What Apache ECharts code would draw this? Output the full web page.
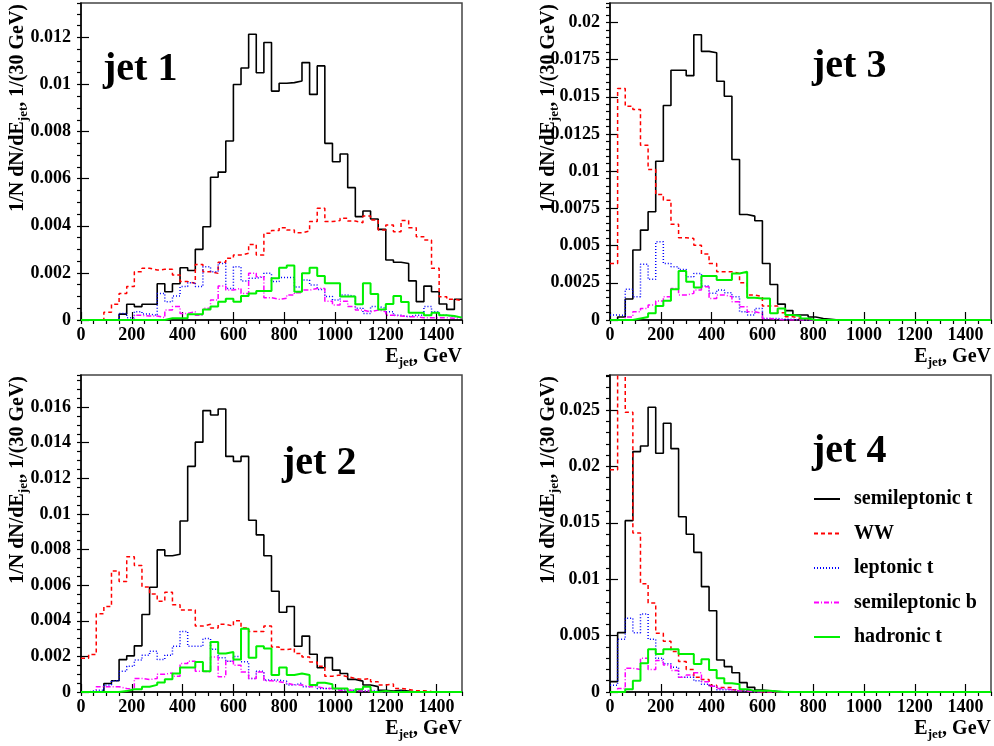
<!DOCTYPE html>
<html><head><meta charset="utf-8">
<script src="https://cdn.jsdelivr.net/npm/echarts@6/dist/echarts.min.js"></script>
<style>html,body{margin:0;padding:0;background:#fff}#c{width:994px;height:746px}</style>
</head><body><div id="c"></div>
<script>
// Bin lower edges (GeV), 30 GeV bins
const binLowEdges = [0,30,60,90,120,150,180,210,240,270,300,330,360,390,420,450,480,510,540,570,
  600,630,660,690,720,750,780,810,840,870,900,930,960,990,1020,1050,1080,1110,1140,1170,
  1200,1230,1260,1290,1320,1350,1380,1410,1440,1470];
const upperEdge = 1500;
const seriesNames = ['semileptonic t','WW','leptonic t','semileptonic b','hadronic t'];
const panelLabels = ['jet 1','jet 3','jet 2','jet 4'];
const yMaxes = [0.01346, 0.0213, 0.0178, 0.0281];
const yIntervals = [0.002, 0.0025, 0.002, 0.005];
const yMinorIntervals = [0.0005, 0.0005, 0.0005, 0.001];

// ---- jet 1 ----
const jet1Semilep = [0,0,0,0,0, 0.00025,0.00067,0.00057,0.00067,0.00067,
  0.00154,0.0012,0.00154,0.00222,0.0021, 0.003,0.00396,0.00606,0.00628,0.0076,
  0.0100,0.0107,0.01213,0.0105,0.01178, 0.00972,0.01005,0.01008,0.01015,0.01093,
  0.00958,0.01079,0.0075,0.00672,0.00705, 0.00562,0.00439,0.00463,0.00429,0.00385,
  0.00255,0.00245,0.0024,0.00166,0.00078, 0.00144,0.0012,0.00068,0.00045,0.00088];
const jet1WW = [0,0,0,0.00033,0.00067, 0.00113,0.00142,0.00205,0.0022,0.00212,
  0.00215,0.00215,0.00191,0.00163,0.00156, 0.00236,0.00205,0.00198,0.00245,0.00262,
  0.00276,0.00283,0.00321,0.00276,0.00368, 0.0038,0.00392,0.00382,0.0037,0.00378,
  0.00418,0.00474,0.00418,0.00422,0.00432, 0.0042,0.00413,0.00442,0.00425,0.00382,
  0.00403,0.00375,0.00422,0.00392,0.00354, 0.0034,0.0022,0.00099,0.00088,0.00082];
const jet1Lep = [0,0,0,0,0, 0.00028,0.0001,0.00035,0.00025,0.0002,
  0.00113,0.00078,0.00102,0.00142,0.00158, 0.00142,0.00226,0.00205,0.0024,0.00134,
  0.00226,0.00166,0.00177,0.00184,0.00198, 0.00163,0.0018,0.0018,0.0014,0.0017,
  0.00149,0.0013,0.001,0.00085,0.00106, 0.001,0.0005,0.00028,0.00057,0.0005,
  0.00035,0.0002,0.00014,0.0002,0.0002, 0.00057,0.00035,0.0002,0.00014,0.0001];
const jet1SemilepB = [0,0,0,0,0, 0,0,0.0002,0.00017,0.00017,
  0.0001,0.00042,0.00057,0.00028,0.00035, 0.0002,0.0005,0.00085,0.00144,0.00127,
  0.00134,0.00113,0.00198,0.00184,0.00095, 0.00088,0.00092,0.00106,0.00116,0.00127,
  0.00134,0.00134,0.0008,0.00064,0.0008, 0.00057,0.00042,0.00035,0.00042,0.00035,
  0.0002,0.00017,0.00014,0.00014,0.0001, 0.0001,0.0001,0.0001,0.00007,0.0001];
const jet1Had = [0,0,0,0,0, 0,0,0,0,0,
  0,0.00007,0.00007,0.00007,0.00024, 0.00024,0.00045,0.00057,0.00078,0.0009,
  0.00078,0.00102,0.00113,0.00123,0.00123, 0.00177,0.00222,0.00231,0.0012,0.00198,
  0.00222,0.00187,0.00156,0.00156,0.001, 0.001,0.00067,0.00156,0.0011,0.00045,
  0.00068,0.00102,0.00076,0.00031,0.00031, 0.0002,0.00031,0.0002,0.00017,0.0001];

// ---- jet 3 ----
const jet3Semilep = [0,0.0002,0.00141,0.0047,0.00604, 0.00727,0.01067,0.01441,0.01678,0.01678,
  0.01642,0.01917,0.01805,0.01796,0.01604, 0.01503,0.01078,0.00709,0.00698,0.00667,
  0.0038,0.00239,0.00107,0.00063,0.00034, 0.00034,0.0002,0.0001,0.00005,0,
  0,0,0,0,0, 0,0,0,0,0, 0,0,0,0,0, 0,0,0,0,0];
const jet3WW = [0.0038,0.01555,0.01436,0.01414,0.01174, 0.01011,0.00843,0.00805,0.00644,0.00553,
  0.00548,0.00503,0.00443,0.0038,0.00324, 0.00324,0.00313,0.00251,0.00168,0.00157,
  0.00094,0.00094,0.00049,0.00022,0.0001, 0.00005,0,0,0,0,
  0,0,0,0,0, 0,0,0,0,0, 0,0,0,0,0, 0,0,0,0,0];
const jet3Lep = [0.00034,0.0003,0.00206,0.00157,0.00374, 0.00273,0.00526,0.0038,0.00358,0.0034,
  0.00291,0.00313,0.00228,0.00179,0.00201, 0.00183,0.00157,0.00056,0.00034,0.00078,
  0.0001,0.0001,0.00005,0.00005,0, 0,0,0,0,0,
  0,0,0,0,0, 0,0,0,0,0, 0,0,0,0,0, 0,0,0,0,0];
const jet3SemilepB = [0,0,0.0002,0.00056,0.00078, 0.001,0.00128,0.00157,0.00212,0.00168,
  0.00179,0.00201,0.00224,0.00145,0.00168, 0.00157,0.00123,0.00089,0.00056,0.00045,
  0.0001,0.00005,0,0,0, 0,0,0,0,0,
  0,0,0,0,0, 0,0,0,0,0, 0,0,0,0,0, 0,0,0,0,0];
const jet3Had = [0,0,0,0.0001,0.0002, 0.00045,0.00094,0.0013,0.00206,0.00329,
  0.00257,0.00219,0.00295,0.00295,0.00268, 0.00268,0.00313,0.00324,0.0015,0.00145,
  0.00145,0.00045,0.00078,0.00034,0.00027, 0.0001,0,0,0,0,
  0,0,0,0,0, 0,0,0,0,0, 0,0,0,0,0, 0,0,0,0,0];

// ---- jet 2 ----
const jet2Semilep = [0,0,0,0.00048,0.00063, 0.00182,0.00203,0.00259,0.00435,0.00588,
  0.00798,0.00765,0.00774,0.0096,0.01267, 0.01403,0.0158,0.01555,0.01589,0.01323,
  0.01295,0.01323,0.00964,0.00882,0.00765, 0.00566,0.00448,0.0048,0.00257,0.00314,
  0.00212,0.00136,0.00193,0.00123,0.00104, 0.00071,0.00061,0.00039,0.0003,0.0001,
  0.00005,0.0001,0.00005,0,0, 0,0,0,0,0];
const jet2WW = [0.0019,0.0021,0.0044,0.0048,0.0068, 0.0062,0.0076,0.0071,0.0059,0.0055,
  0.0051,0.0056,0.0049,0.0046,0.0046, 0.0037,0.0038,0.0036,0.0038,0.0037,
  0.0040,0.0036,0.0034,0.0034,0.0037, 0.00253,0.00238,0.00244,0.00216,0.00197,
  0.00169,0.00145,0.00089,0.00095,0.00086, 0.00076,0.00071,0.00076,0.00058,0.00039,
  0.00045,0.0002,0.00015,0.00007,0.00007, 0.00003,0,0,0,0];
const jet2Lep = [0,0.0001,0.0001,0.0004,0.00063, 0.00117,0.00145,0.00179,0.00207,0.00229,
  0.00182,0.00207,0.00257,0.0034,0.00257, 0.00257,0.003,0.0024,0.00192,0.00173,
  0.002,0.0017,0.00076,0.00117,0.00067, 0.00067,0.0006,0.0004,0.0005,0.0003,
  0.0004,0.0002,0.0002,0.00015,0.0001, 0.0001,0.00005,0.0001,0.00005,0,
  0,0.00005,0,0,0, 0,0,0,0,0];
const jet2SemilepB = [0,0,0.0003,0.0003,0.0003, 0.0002,0.00015,0.00076,0.0007,0.00076,
  0.001,0.00107,0.00089,0.0016,0.00173, 0.00117,0.00113,0.00197,0.00086,0.00173,
  0.0015,0.00113,0.00076,0.00113,0.00063, 0.00058,0.0005,0.0004,0.0004,0.0003,
  0.0003,0.0002,0.0002,0.0001,0.0001, 0.0001,0.00005,0.00005,0,0,
  0,0,0,0,0, 0,0,0,0,0];
const jet2Had = [0,0,0,0,0, 0.00005,0.00015,0.00015,0.0003,0.0004,
  0.00054,0.00071,0.00104,0.00138,0.00138, 0.00169,0.00117,0.00281,0.00216,0.00225,
  0.00182,0.00355,0.00192,0.00257,0.00244, 0.00095,0.00138,0.00095,0.00104,0.00095,
  0.0004,0.00052,0.00043,0.0002,0.0002, 0,0.00015,0.0003,0,0.00005,
  0,0,0,0,0, 0,0,0,0,0];

// ---- jet 4 ----
const jet4Semilep = [0.00092,0.00526,0.01519,0.02131,0.02181, 0.02524,0.02116,0.02382,0.02157,0.01554,
  0.01398,0.01238,0.00934,0.0072,0.00284, 0.00225,0.0017,0.00083,0.00041,0.00018,
  0.0001,0.00005,0,0,0, 0,0,0,0,0,
  0,0,0,0,0, 0,0,0,0,0, 0,0,0,0,0, 0,0,0,0,0];
const jet4WW = [0.0197,0.034,0.0248,0.0141,0.0096, 0.0079,0.0052,0.0045,0.0036,0.0027,
  0.002,0.0013,0.0011,0.0006,0.0004, 0.0004,0.0002,0.0001,0.0001,0,
  0,0,0,0,0, 0,0,0,0,0,
  0,0,0,0,0, 0,0,0,0,0, 0,0,0,0,0, 0,0,0,0,0];
const jet4Lep = [0.0006,0.00467,0.00653,0.00526,0.00691, 0.00467,0.003,0.0025,0.0022,0.0013,
  0.0013,0.001,0.00068,0.0005,0.0002, 0.0002,0.0001,0.0001,0.00005,0.00005,
  0.0001,0,0,0,0, 0,0,0,0,0,
  0,0,0,0,0, 0,0,0,0,0, 0,0,0,0,0, 0,0,0,0,0];
const jet4SemilepB = [0,0.0003,0.0021,0.002,0.003, 0.002,0.0028,0.0024,0.0019,0.0013,
  0.0015,0.0017,0.0009,0.0005,0.0003, 0.0002,0.0001,0.0001,0,0,
  0,0,0,0,0, 0,0,0,0,0,
  0,0,0,0,0, 0,0,0,0,0, 0,0,0,0,0, 0,0,0,0,0];
const jet4Had = [0,0,0.00024,0.001,0.00254, 0.00378,0.00337,0.00378,0.00378,0.00337,
  0.00337,0.00248,0.0029,0.00195,0.00121, 0.00077,0.00068,0.00024,0.0001,0.0001,
  0.0001,0.00005,0,0,0, 0,0,0,0,0,
  0,0,0,0,0, 0,0,0,0,0, 0,0,0,0,0, 0,0,0,0,0];

const panelData = [
  [jet1Semilep, jet1WW, jet1Lep, jet1SemilepB, jet1Had],
  [jet3Semilep, jet3WW, jet3Lep, jet3SemilepB, jet3Had],
  [jet2Semilep, jet2WW, jet2Lep, jet2SemilepB, jet2Had],
  [jet4Semilep, jet4WW, jet4Lep, jet4SemilepB, jet4Had]
];

// ---- styling / layout ----
const FONT = 'Liberation Serif';
const gridPos = [
  {left: 81, top: 3}, {left: 610, top: 3}, {left: 81, top: 375}, {left: 610, top: 375}
];
const GW = 381, GH = 317;
const lineStyles = [
  {color: '#000000', width: 1.6, type: 'solid'},
  {color: '#ff0000', width: 1.5, type: [4, 3]},
  {color: '#0000ff', width: 1.5, type: [1, 2]},
  {color: '#ff00ff', width: 1.5, type: [5, 2, 1, 2]},
  {color: '#00f000', width: 2, type: 'solid'}
];

function hist(vals) {
  const d = binLowEdges.map((e, i) => [e, vals[i]]);
  d.push([upperEdge, vals[vals.length - 1]]);
  return d;
}

const grids = [], xAxes = [], yAxes = [], series = [], graphics = [];
gridPos.forEach((p, g) => {
  grids.push({left: p.left, top: p.top, width: GW, height: GH, show: true,
    borderColor: '#444', borderWidth: 1.5, backgroundColor: 'transparent'});
  xAxes.push({type: 'value', gridIndex: g, min: 0, max: upperEdge, interval: 200,
    axisLine: {show: true, onZero: false, lineStyle: {color: '#000', width: 1.5}},
    axisTick: {show: true, inside: true, length: 8, lineStyle: {color: '#000', width: 1.2}},
    axisLabel: {show: true, showMaxLabel: false, margin: 6, fontFamily: FONT, fontWeight: 'bold', fontSize: 18, color: '#000',
      formatter: v => String(v)},
    splitLine: {show: false}});
  xAxes.push({type: 'value', gridIndex: g, min: 0, max: upperEdge, interval: 50,
    axisLine: {show: false}, axisLabel: {show: false},
    axisTick: {show: true, inside: true, length: 4, lineStyle: {color: '#000', width: 1.2}},
    splitLine: {show: false}});
  yAxes.push({type: 'value', gridIndex: g, min: 0, max: yMaxes[g], interval: yIntervals[g],
    axisLine: {show: true, onZero: false, lineStyle: {color: '#000', width: 1.5}},
    axisTick: {show: true, inside: true, length: 8, lineStyle: {color: '#000', width: 1.2}},
    axisLabel: {show: true, showMaxLabel: false, margin: 10, fontFamily: FONT, fontWeight: 'bold', fontSize: 18, color: '#000'},
    splitLine: {show: false}});
  yAxes.push({type: 'value', gridIndex: g, min: 0, max: yMaxes[g], interval: yMinorIntervals[g],
    axisLine: {show: false}, axisLabel: {show: false},
    axisTick: {show: true, inside: true, length: 4, lineStyle: {color: '#000', width: 1.2}},
    splitLine: {show: false}});

  panelData[g].forEach((vals, s) => {
    series.push({name: seriesNames[s], type: 'line', step: 'end', symbol: 'none', showSymbol: false,
      xAxisIndex: 2 * g, yAxisIndex: 2 * g, clip: true, animation: false,
      lineStyle: lineStyles[s], itemStyle: {color: lineStyles[s].color},
      data: hist(vals)});
  });

  graphics.push({type: 'text', x: g % 2 === 0 ? 18 : 549, y: p.top + 1, rotation: Math.PI / 2,
    style: {text: '{a|1/N dN/dE}{s|jet}{a|, 1/(30 GeV)}', align: 'right', verticalAlign: 'middle',
      rich: {a: {fontFamily: FONT, fontWeight: 'bold', fontSize: 20, fill: '#000', lineHeight: 24, verticalAlign: 'middle'},
             s: {fontFamily: FONT, fontWeight: 'bold', fontSize: 13, fill: '#000', lineHeight: 24, verticalAlign: 'bottom'}}}});
  graphics.push({type: 'text', x: p.left + GW, y: p.top + GH + 37,
    style: {text: '{a|E}{s|jet}{a|, GeV}', align: 'right', verticalAlign: 'middle',
      rich: {a: {fontFamily: FONT, fontWeight: 'bold', fontSize: 20, fill: '#000', lineHeight: 24, verticalAlign: 'middle'},
             s: {fontFamily: FONT, fontWeight: 'bold', fontSize: 13, fill: '#000', lineHeight: 24, verticalAlign: 'bottom'}}}});
});

const labelPos = [[103, 70], [812, 67], [282, 464], [812, 452]];
panelLabels.forEach((t, i) => {
  graphics.push({type: 'text', x: labelPos[i][0], y: labelPos[i][1],
    style: {text: t, font: 'bold 40px "Liberation Serif"', fill: '#000', align: 'left', verticalAlign: 'middle'}});
});

const chart = echarts.init(document.getElementById('c'), null, {renderer: 'canvas'});
chart.setOption({
  backgroundColor: '#ffffff',
  animation: false,
  grid: grids, xAxis: xAxes, yAxis: yAxes, series: series,
  legend: {data: seriesNames, orient: 'vertical', left: 813, top: 489, padding: 0,
    itemWidth: 26, itemHeight: 14, itemGap: 14.5, selectedMode: false,
    itemStyle: {opacity: 0},
    textStyle: {fontFamily: FONT, fontWeight: 'bold', fontSize: 20, color: '#000', lineHeight: 20, padding: [0, 0, 0, 9]}},
  graphic: graphics
});
</script>
</body></html>
